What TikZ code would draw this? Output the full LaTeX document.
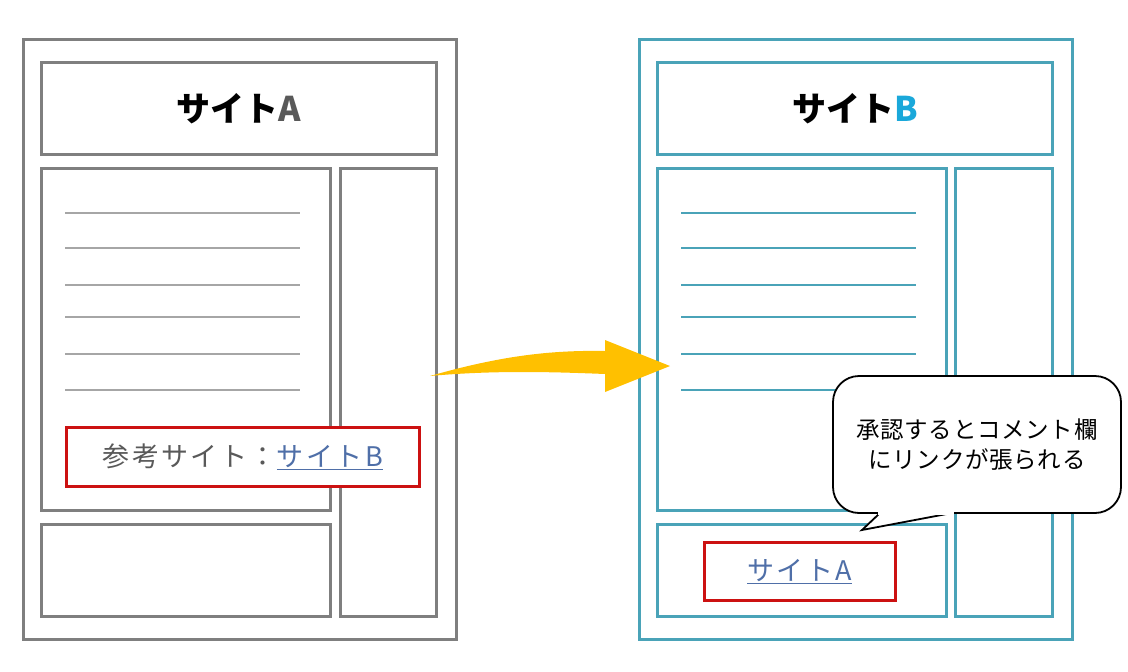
\documentclass[tikz,border=0pt]{standalone}
\usepackage{fontspec}
\setmainfont{Noto Sans CJK JP}
\newfontfamily\spacedjp[LetterSpace=9]{Noto Sans CJK JP}
\newfontfamily\notejp[LetterSpace=3]{Noto Sans CJK JP}
\definecolor{framegray}{HTML}{7F7F7F}
\definecolor{linegray}{HTML}{A6A6A6}
\definecolor{frameteal}{HTML}{4AA3B8}
\definecolor{markred}{HTML}{CC1111}
\definecolor{arrowyellow}{HTML}{FFC000}
\definecolor{linkblue}{HTML}{4F6FA8}
\definecolor{bcyan}{HTML}{1AA8DA}
\definecolor{textgray}{HTML}{595959}
\tikzset{
  gbox/.style={draw=framegray, line width=3pt, anchor=north west, inner sep=0pt, fill=white},
  tbox/.style={draw=frameteal, line width=3pt, anchor=north west, inner sep=0pt, fill=white},
  redbox/.style={draw=markred, line width=2.5pt, anchor=north west, inner sep=0pt, fill=white},
  gline/.style={draw=linegray, line width=2.4pt},
  tline/.style={draw=frameteal, line width=2.4pt},
  title/.style={font=\fontsize{34}{38}\selectfont\bfseries, text=black},
  linktext/.style={font=\spacedjp\fontsize{27}{32}\selectfont},
}
\begin{document}
\begin{tikzpicture}[x=1pt,y=-1pt]
\useasboundingbox (0,0) rectangle (1128,672);
% ---------- Site A ----------
\node[gbox, minimum width=433pt, minimum height=600pt] (Aouter) at (22,38) {};
\node[gbox, minimum width=395pt, minimum height=92pt] (Ahead) at (40,61) {};
\node[gbox, minimum width=289pt, minimum height=342pt] (Amain) at (40,167) {};
\node[gbox, minimum width=96pt, minimum height=448pt] (Aside) at (339,167) {};
\node[gbox, minimum width=289pt, minimum height=92pt] (Afoot) at (40,523) {};
\node[title] (Atitle) at (Ahead.center) {サイト\textcolor{textgray}{A}};
\foreach \yy in {213,248,285,317,354,390} \draw[gline] (65,\yy) -- (300,\yy);
\node[redbox, minimum width=353pt, minimum height=59pt] (Ared) at (65,426) {};
\node[linktext, text=textgray] (Alink) at (Ared.center) {参考サイト：\textcolor{linkblue}{\underline{サイトB}}};
% ---------- Site B ----------
\node[tbox, minimum width=433pt, minimum height=600pt] (Bouter) at (638,38) {};
\node[tbox, minimum width=395pt, minimum height=92pt] (Bhead) at (656,61) {};
\node[tbox, minimum width=289pt, minimum height=342pt] (Bmain) at (656,167) {};
\node[tbox, minimum width=97pt, minimum height=448pt] (Bside) at (954,167) {};
\node[tbox, minimum width=289pt, minimum height=92pt] (Bfoot) at (656,523) {};
\node[title] (Btitle) at (Bhead.center) {サイト\textcolor{bcyan}{B}};
\foreach \yy in {213,248,285,317,354,390} \draw[tline] (681,\yy) -- (916,\yy);
\node[redbox, minimum width=191pt, minimum height=58pt] (Bred) at (703,541) {};
\node[linktext, text=linkblue] (Blink) at (Bred.center) {\underline{サイトA}};
% ---------- Callout ----------
\coordinate (tailL) at (880,513);
\coordinate (tailR) at (952,513);
\coordinate (tailTip) at (862,530);
\draw[line width=1.8pt, fill=white, rounded corners=26pt]
  (tailR) -- (1121,513) -- (1121,376) -- (833,376) -- (833,513) -- (tailL);
\draw[line width=1.8pt, fill=white, line join=miter] (tailL) -- (tailTip) -- (tailR);
\fill[white] (878,509) rectangle (954,515);
\node[font=\notejp\fontsize{23.5}{30}\selectfont, align=center, text=black] (note) at (977,445)
  {承認するとコメント欄\\にリンクが張られる};
% ---------- Arrow ----------
\coordinate (arrTail) at (430,376);
\coordinate (arrTip) at (670,366);
\fill[arrowyellow] (arrTail) .. controls (500,356) and (550,350) .. (605,351)
  -- (605,340) -- (arrTip) -- (605,392) -- (605,374)
  .. controls (555,372) and (495,370) .. (arrTail) -- cycle;
\end{tikzpicture}
\end{document}
